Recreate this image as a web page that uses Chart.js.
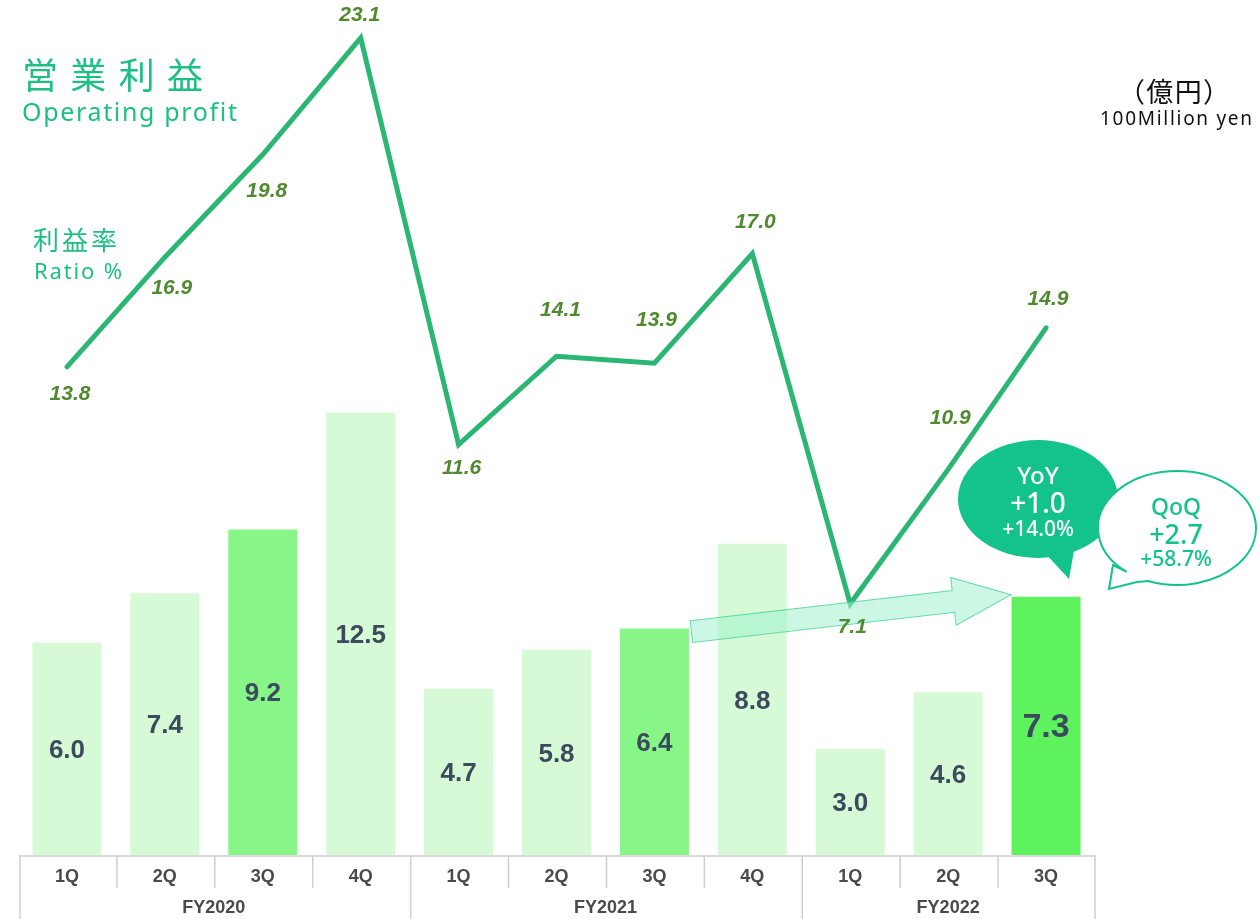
<!DOCTYPE html>
<html>
<head>
<meta charset="utf-8">
<script src="https://cdn.jsdelivr.net/npm/chart.js@4.4.0/dist/chart.umd.min.js"></script>
<style>
  html, body { margin: 0; padding: 0; background: #fff; }
  #wrap { width: 1260px; height: 919px; position: relative; }
</style>
</head>
<body>
<div id="wrap"><canvas id="profitChart" width="1260" height="919"></canvas></div>
<script>
// quarters and fiscal years
const quarters = ["1Q", "2Q", "3Q", "4Q", "1Q", "2Q", "3Q", "4Q", "1Q", "2Q", "3Q"];
const fiscalYears = ["FY2020", "FY2021", "FY2022"];
const fiscalYearSpans = [4, 4, 3];

// operating profit (100 million yen) and profit ratio (%)
const operatingProfit = [6.0, 7.4, 9.2, 12.5, 4.7, 5.8, 6.4, 8.8, 3.0, 4.6, 7.3];
const profitRatio = [13.8, 16.9, 19.8, 23.1, 11.6, 14.1, 13.9, 17.0, 7.1, 10.9, 14.9];

// colours
const barColors = ["#d5fad5", "#d5fad5", "#88f588", "#d5fad5", "#d5fad5", "#d5fad5",
                   "#88f588", "#d5fad5", "#d5fad5", "#d5fad5", "#5ff25f"];
const lineColor = "#2bb673";
const accent = "#14c38b";

// offset of each ratio label from its point
const ratioLabelDy = [27, 31, 37, -23, 24, -46, -43, -31, 23, -51, -29];
const ratioLabelDx = [3, 7, 4, -1, 3, 4, 2, 3, 2, 2, 2];

function fitText(ctx, text, x, y, width) {
    ctx.letterSpacing = "0px";
    const w = ctx.measureText(text).width;
    const gap = (width - w) / Math.max(1, text.length - 1);
    ctx.letterSpacing = gap.toFixed(2) + "px";
    ctx.fillText(text, x, y);
    ctx.letterSpacing = "0px";
}

const overlay = {
    id: "overlay",
    afterDatasetsDraw(chart) {
        const ctx = chart.ctx;
        const xs = chart.scales.x, ys = chart.scales.y;
        const area = chart.chartArea;
        ctx.save();

        // bar value labels
        const barMeta = chart.getDatasetMeta(0);
        ctx.fillStyle = "#3c4a5e";
        ctx.textAlign = "center";
        ctx.textBaseline = "middle";
        barMeta.data.forEach((bar, i) => {
            const last = i === operatingProfit.length - 1;
            ctx.font = "bold " + (last ? 34 : 26) + "px 'Liberation Sans', Arial, sans-serif";
            const mid = (bar.y + bar.base) / 2;
            ctx.fillText(operatingProfit[i].toFixed(1), bar.x, mid + 2);
        });

        // arrow from FY2021 3Q to FY2022 3Q
        const sx = xs.getPixelForValue(6) + 37, sy = ys.getPixelForValue(6.4) + 3;
        const tx = xs.getPixelForValue(10) - 35, ty = ys.getPixelForValue(7.3) - 2;
        const ang = Math.atan2(ty - sy, tx - sx);
        const len = Math.hypot(tx - sx, ty - sy);
        ctx.translate(sx, sy);
        ctx.rotate(ang);
        ctx.beginPath();
        ctx.moveTo(0, -11);
        ctx.lineTo(len - 58, -11);
        ctx.lineTo(len - 58, -24);
        ctx.lineTo(len, 0);
        ctx.lineTo(len - 58, 24);
        ctx.lineTo(len - 58, 11);
        ctx.lineTo(0, 11);
        ctx.closePath();
        ctx.fillStyle = "rgba(160, 240, 205, 0.55)";
        ctx.fill();
        ctx.strokeStyle = "rgba(70, 210, 150, 0.8)";
        ctx.lineWidth = 1;
        ctx.stroke();
        ctx.setTransform(1, 0, 0, 1, 0, 0);

        // ratio labels
        const lineMeta = chart.getDatasetMeta(1);
        ctx.font = "italic bold 21px 'Liberation Sans', Arial, sans-serif";
        ctx.fillStyle = "#4f8a2e";
        lineMeta.data.forEach((pt, i) => {
            ctx.fillText(profitRatio[i].toFixed(1), pt.x + ratioLabelDx[i], pt.y + ratioLabelDy[i]);
        });

        // category table below the plot
        const b = area.bottom;
        const step = xs.getPixelForValue(1) - xs.getPixelForValue(0);
        const left = xs.getPixelForValue(0) - step / 2 + 2;
        const right = left + step * quarters.length - 2;
        ctx.strokeStyle = "#cfcfcf";
        ctx.lineWidth = 1.5;
        ctx.beginPath();
        ctx.moveTo(left, b + 1); ctx.lineTo(right, b + 1);
        ctx.moveTo(left, b); ctx.lineTo(left, 919);
        ctx.moveTo(right, b); ctx.lineTo(right, 919);
        let idx = 0;
        fiscalYearSpans.forEach((span, k) => {
            for (let j = 1; j < span; j++) {
                const x = left + step * (idx + j) - 1;
                ctx.moveTo(x, b); ctx.lineTo(x, b + 33);
            }
            idx += span;
            if (k < fiscalYearSpans.length - 1) {
                const x = left + step * idx - 1;
                ctx.moveTo(x, b); ctx.lineTo(x, 919);
            }
        });
        ctx.stroke();

        ctx.fillStyle = "#4a4a4a";
        ctx.font = "bold 18px 'Liberation Sans Narrow', 'Liberation Sans', Arial, sans-serif";
        quarters.forEach((q, i) => {
            ctx.fillText(q, xs.getPixelForValue(i), b + 22);
        });
        idx = 0;
        fiscalYears.forEach((fy, k) => {
            const first = xs.getPixelForValue(idx);
            const last = xs.getPixelForValue(idx + fiscalYearSpans[k] - 1);
            ctx.fillText(fy, (first + last) / 2, b + 53);
            idx += fiscalYearSpans[k];
        });
        ctx.restore();
    },
    afterDraw(chart) {
        const ctx = chart.ctx;
        ctx.save();
        ctx.textBaseline = "middle";

        // titles
        ctx.fillStyle = "#1dbf85";
        ctx.textAlign = "left";
        ctx.font = "36px 'Noto Sans CJK JP', sans-serif";
        fitText(ctx, "営業利益", 22, 75, 181);
        ctx.font = "25px 'Noto Sans', sans-serif";
        fitText(ctx, "Operating profit", 22, 114, 215);
        ctx.font = "26px 'Noto Sans CJK JP', sans-serif";
        fitText(ctx, "利益率", 33, 240, 84);
        ctx.font = "22px 'Noto Sans', sans-serif";
        fitText(ctx, "Ratio %", 34, 273, 88);

        // unit
        ctx.fillStyle = "#111";
        ctx.textAlign = "left";
        ctx.font = "27px 'Noto Sans CJK JP', sans-serif";
        fitText(ctx, "（億円）", 1118, 92, 112);
        ctx.font = "19px 'Noto Sans', sans-serif";
        fitText(ctx, "100Million yen", 1100, 120, 152);

        // YoY bubble
        ctx.fillStyle = accent;
        ctx.beginPath();
        ctx.ellipse(1038, 499, 80, 59, 0, 0, Math.PI * 2);
        ctx.fill();
        ctx.beginPath();
        ctx.moveTo(1044, 552);
        ctx.lineTo(1069, 579);
        ctx.lineTo(1075, 545);
        ctx.closePath();
        ctx.fill();
        ctx.fillStyle = "#fff";
        ctx.textAlign = "center";
        ctx.font = "500 24px 'Noto Sans', sans-serif";
        ctx.fillText("YoY", 1038, 477);
        ctx.font = "500 28px 'Noto Sans', sans-serif";
        ctx.fillText("+1.0", 1038, 505);
        ctx.font = "500 21px 'Noto Sans', sans-serif";
        ctx.fillText("+14.0%", 1038, 530);

        // QoQ bubble
        ctx.beginPath();
        ctx.ellipse(1177, 528, 79, 57, 0, Math.PI * 0.72, Math.PI * 0.62 + Math.PI * 2, false);
        ctx.lineTo(1137, 582);
        ctx.lineTo(1109, 589);
        ctx.lineTo(1113, 565);
        ctx.closePath();
        ctx.fillStyle = "#fff";
        ctx.fill();
        ctx.strokeStyle = accent;
        ctx.lineWidth = 2;
        ctx.stroke();
        ctx.fillStyle = accent;
        ctx.font = "500 23px 'Noto Sans', sans-serif";
        ctx.fillText("QoQ", 1176, 508);
        ctx.font = "500 27px 'Noto Sans', sans-serif";
        ctx.fillText("+2.7", 1176, 536);
        ctx.font = "500 21px 'Noto Sans', sans-serif";
        ctx.fillText("+58.7%", 1176, 560);

        // page number
        ctx.fillStyle = "#444";
        ctx.font = "26px 'Noto Sans', sans-serif";
        ctx.fillText("8", 1201, 932);
        ctx.restore();
    }
};

new Chart(document.getElementById("profitChart").getContext("2d"), {
    data: {
        labels: quarters,
        datasets: [
            {
                type: "bar",
                label: "Operating profit",
                data: operatingProfit,
                backgroundColor: barColors,
                barPercentage: 0.705,
                categoryPercentage: 1.0,
                order: 2
            },
            {
                type: "line",
                label: "Ratio %",
                data: profitRatio,
                borderColor: lineColor,
                borderWidth: 5,
                borderCapStyle: "round",
                borderJoinStyle: "miter",
                pointRadius: 0,
                tension: 0,
                order: 1
            }
        ]
    },
    options: {
        responsive: false,
        animation: false,
        layout: { padding: { left: 18, right: 165, top: 6, bottom: 64 } },
        plugins: {
            legend: { display: false },
            tooltip: { enabled: false }
        },
        scales: {
            x: { display: false, offset: true },
            y: { display: false, min: 0, max: 24 }
        }
    },
    plugins: [overlay]
});
</script>
</body>
</html>
